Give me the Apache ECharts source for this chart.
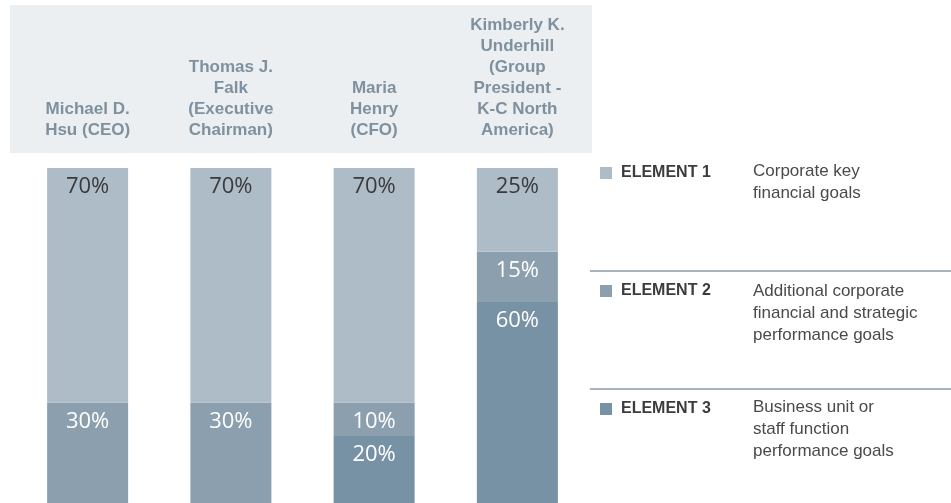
<!DOCTYPE html>
<html>
<head>
<meta charset="utf-8">
<script src="https://cdn.jsdelivr.net/npm/echarts@6/dist/echarts.min.js"></script>
<style>
  html, body { margin: 0; padding: 0; background: #ffffff; }
  #chart { width: 951px; height: 503px; }
</style>
</head>
<body>
<div id="chart"></div>
<script>
// executives (header labels)
var people = [
  "Michael D.\nHsu (CEO)",
  "Thomas J.\nFalk\n(Executive\nChairman)",
  "Maria\nHenry\n(CFO)",
  "Kimberly K.\nUnderhill\n(Group\nPresident -\nK-C North\nAmerica)"
];
var element1 = [70, 70, 70, 25];
var element2 = [30, 30, 10, 15];
var element3 = [0, 0, 20, 60];
var elementNames = ["ELEMENT 1", "ELEMENT 2", "ELEMENT 3"];
var elementDesc = [
  "Corporate key\nfinancial goals",
  "Additional corporate\nfinancial and strategic\nperformance goals",
  "Business unit or\nstaff function\nperformance goals"
];

var colors = ["#aebcc8", "#8b9fae", "#7892a5"];

var myChart = echarts.init(document.getElementById("chart"));

function pctLabel(textColor) {
  return {
    show: true,
    position: "insideTop",
    distance: 8,
    color: textColor,
    fontSize: 22,
    fontFamily: "Open Sans",
    formatter: function (p) {
      return p.value ? p.value + "%" : "";
    }
  };
}

function descText(i, top) {
  return {
    type: "text",
    left: 753,
    top: top,
    silent: true,
    style: {
      text: elementDesc[i],
      fill: "#4a4a4a",
      fontSize: 17,
      lineHeight: 22,
      fontFamily: "Liberation Sans"
    }
  };
}

var option = {
  backgroundColor: "#ffffff",
  animation: false,
  grid: {
    left: 16,
    top: 168,
    width: 573,
    height: 337
  },
  xAxis: {
    type: "category",
    position: "top",
    data: people,
    axisLine: { show: false },
    axisTick: { show: false },
    axisLabel: {
      margin: 27,
      interval: 0,
      color: "#7f919e",
      fontWeight: "bold",
      fontSize: 17,
      lineHeight: 21,
      fontFamily: "Liberation Sans",
      align: "center"
    }
  },
  yAxis: {
    type: "value",
    min: 0,
    max: 100,
    show: false,
    splitLine: { show: false }
  },
  legend: {
    orient: "vertical",
    left: 600,
    top: 165,
    padding: 0,
    itemWidth: 12,
    itemHeight: 12,
    itemGap: 102,
    icon: "rect",
    data: elementNames,
    textStyle: {
      color: "#3c3c3c",
      fontWeight: "bold",
      fontSize: 16,
      fontFamily: "Liberation Sans",
      padding: [0, 0, 0, 4]
    }
  },
  graphic: [
    {
      type: "rect",
      z: -10,
      silent: true,
      shape: { x: 10, y: 5, width: 582, height: 148 },
      style: { fill: "#eceff2" }
    },
    {
      type: "line",
      silent: true,
      shape: { x1: 590, y1: 271, x2: 951, y2: 271 },
      style: { stroke: "#8c9ba6", lineWidth: 1.5 }
    },
    {
      type: "line",
      silent: true,
      shape: { x1: 590, y1: 389, x2: 951, y2: 389 },
      style: { stroke: "#8c9ba6", lineWidth: 1.5 }
    },
    descText(0, 160),
    descText(1, 280),
    descText(2, 396)
  ],
  series: [
    {
      name: "ELEMENT 3",
      type: "bar",
      stack: "total",
      barWidth: 81,
      itemStyle: { color: colors[2] },
      label: pctLabel("#ffffff"),
      data: element3
    },
    {
      name: "ELEMENT 2",
      type: "bar",
      stack: "total",
      barWidth: 81,
      itemStyle: { color: colors[1] },
      label: pctLabel("#ffffff"),
      data: element2
    },
    {
      name: "ELEMENT 1",
      type: "bar",
      stack: "total",
      barWidth: 81,
      itemStyle: { color: colors[0] },
      label: pctLabel("#3a3a3a"),
      data: element1
    }
  ]
};

myChart.setOption(option);
window.onresize = function () {
  myChart.resize();
};
</script>
</body>
</html>
